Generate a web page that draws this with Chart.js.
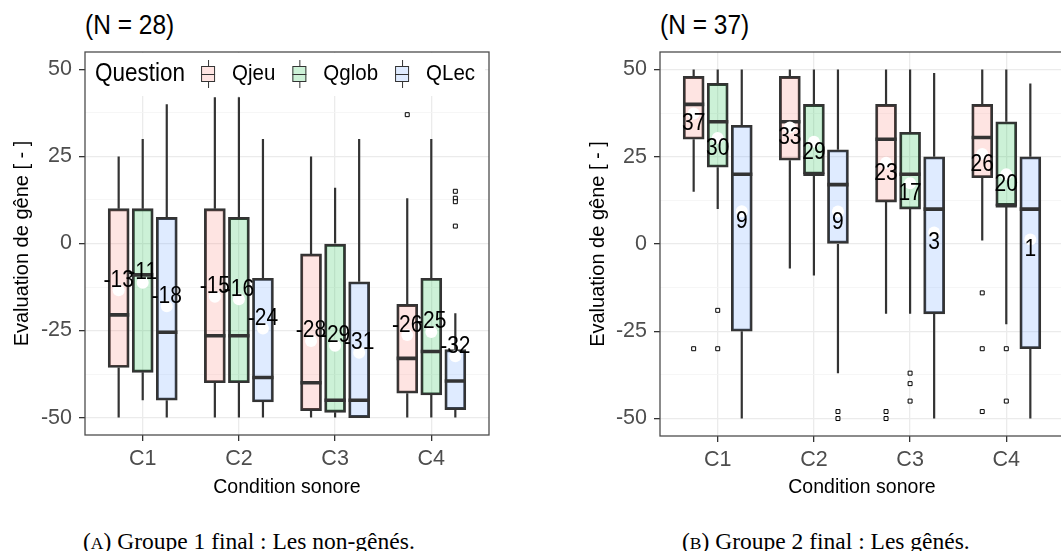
<!DOCTYPE html>
<html><head><meta charset="utf-8">
<script src="https://cdn.jsdelivr.net/npm/chart.js@4.4.0/dist/chart.umd.min.js"></script>
<style>
html,body{margin:0;padding:0;background:#fff;}
body{width:1061px;height:551px;overflow:hidden;position:relative;font-family:"Liberation Sans",Arial,sans-serif;}
.cv{position:absolute;top:0;}
.ttl{position:absolute;font-size:24.5px;line-height:24px;color:#000;top:13px;white-space:nowrap;transform:scaleY(1.1);transform-origin:left center;}
.cap{position:absolute;font-family:"Liberation Serif","Times New Roman",serif;font-size:23.5px;line-height:24px;top:529px;color:#000;white-space:nowrap;}
.sc{font-size:17.5px;}
</style></head><body>
<div class="ttl" style="left:85px">(N = 28)</div>
<div class="ttl" style="left:660px">(N = 37)</div>
<canvas id="cA" class="cv" style="left:0px" width="530" height="510"></canvas>
<canvas id="cB" class="cv" style="left:530px" width="540" height="510"></canvas>
<div class="cap" style="left:83px">(<span class="sc">A</span>) Groupe 1 final : Les non-gênés.</div>
<div class="cap" style="left:682px">(<span class="sc">B</span>) Groupe 2 final : Les gênés.</div>
<script>
// ---------- data ----------
const categories = ['C1', 'C2', 'C3', 'C4'];
const questions = ['Qjeu', 'Qglob', 'QLec'];
const yMajorTicks = [-50, -25, 0, 25, 50];
const yMinorTicks = [-37.5, -12.5, 12.5, 37.5];

// Panel A (N = 28) : rows = Qjeu, Qglob, QLec ; columns = C1..C4
const A_min  = [[-50, -50, -50, -50], [-45, -50, -50, -50], [-50, -50, -50, -50]];
const A_q1   = [[-35.6, -40, -48, -43], [-37, -40, -48.5, -43.5], [-45, -45.5, -50, -47.7]];
const A_med  = [[-20.5, -26.5, -40, -33], [-9, -26.5, -45, -31], [-25.5, -38.5, -45, -39.5]];
const A_q3   = [[10, 10, -3, -17.5], [10, 7.5, 0, -10], [7.5, -10, -11, -30.5]];
const A_max  = [[25, 42, 25, 13], [30, 42, 16, 30], [40, 30, 30, -20]];
const A_mean = [[-13.4, -15.3, -28, -26.3], [-11.3, -16, -29.4, -25.4], [-18, -24.4, -31.4, -32.4]];
const A_out  = [[[], [], [], [37]], [[], [], [], []], [[], [], [], [15, 13, 12, 5]]];

// Panel B (N = 37)
const B_min  = [[15, -7, -20, 1], [10, -9, -20, -23], [-50, -37, -50, -50]];
const B_q1   = [[30, 24, 12, 19], [22, 20, 10, 11], [-25, 0, -20, -30]];
const B_med  = [[40, 35, 30, 30.5], [35, 20, 20, 11], [20, 17, 10, 10]];
const B_q3   = [[48, 48, 40, 40], [46, 40, 32, 35], [34, 27, 25, 25]];
const B_max  = [[50, 50, 50, 50], [50, 50, 50, 50], [50, 50, 49, 46]];
const B_mean = [[37.4, 33.4, 23.3, 25.8], [30.4, 29.3, 17.4, 20], [9.4, 9.3, 3.3, 1.3]];
const B_out  = [[[-30], [], [-48, -50], [-14, -30, -48]], [[-19, -30], [], [-37, -40, -45], [-30, -45]], [[], [-48, -50], [], []]];

// ---------- style ----------
const FONT = '"Liberation Sans", Arial, sans-serif';
Chart.defaults.font.family = FONT;
const FILLS = ['rgba(248,118,109,0.2)', 'rgba(0,186,56,0.2)', 'rgba(97,156,255,0.2)'];
const DODGE = [-0.25, 0, 0.25];
const BOX_HALF = 0.11;
const LINE = '#333333';
const TEXT_STRETCH = 1.12;

function stretchedText(ctx, txt, x, y) {
  ctx.save();
  ctx.translate(x, y);
  ctx.scale(1, TEXT_STRETCH);
  ctx.fillText(txt, 0, 0);
  ctx.restore();
}

const framePlugin = {
  id: 'frame',
  afterDatasetsDraw(chart, args, opts) {
    const ctx = chart.ctx, ca = chart.chartArea;
    ctx.save();
    // mean labels
    const mi = chart.data.datasets.findIndex(d => d.isMean);
    const meta = chart.getDatasetMeta(mi);
    ctx.fillStyle = '#000';
    ctx.font = '21px ' + FONT;
    ctx.textAlign = 'center';
    ctx.textBaseline = 'middle';
    meta.data.forEach((el, j) => {
      const d = chart.data.datasets[mi].data[j];
      stretchedText(ctx, String(d.label), el.x, el.y + opts.labelOffset);
    });
    // legend
    if (opts.legend) {
      ctx.fillStyle = '#fff';
      ctx.fillRect(ca.left + 1, ca.top + 1, 399, 43);
      const cy = ca.top + 22;
      ctx.textAlign = 'left';
      ctx.fillStyle = '#000';
      ctx.font = '22.5px ' + FONT;
      let x = ca.left + 10;
      stretchedText(ctx, 'Question', x, cy);
      x += ctx.measureText('Question').width + 16;
      ctx.font = '20.5px ' + FONT;
      questions.forEach((q, qi) => {
        ctx.fillStyle = '#fff';
        ctx.fillRect(x, cy - 8, 14, 16);
        ctx.fillStyle = FILLS[qi];
        ctx.fillRect(x, cy - 8, 14, 16);
        ctx.strokeStyle = LINE;
        ctx.lineWidth = 1;
        ctx.strokeRect(x + 0.5, cy - 8 + 0.5, 13, 15);
        ctx.beginPath();
        ctx.moveTo(x, cy + 0.5); ctx.lineTo(x + 14, cy + 0.5);
        ctx.moveTo(x + 7.5, cy - 14); ctx.lineTo(x + 7.5, cy - 8);
        ctx.moveTo(x + 7.5, cy + 8); ctx.lineTo(x + 7.5, cy + 14);
        ctx.stroke();
        x += 14 + 17;
        ctx.fillStyle = '#000';
        stretchedText(ctx, q, x, cy);
        x += ctx.measureText(q).width + 17;
      });
    }
    // panel border
    ctx.strokeStyle = '#4d4d4d';
    ctx.lineWidth = 1.3;
    ctx.strokeRect(ca.left, ca.top, ca.right - ca.left, ca.bottom - ca.top);
    ctx.restore();
  }
};

function build(id, S, cfg) {
  const datasets = [];
  const wh = [], md = [], ol = [], mn = [];
  questions.forEach((q, qi) => categories.forEach((c, ci) => {
    const x = ci + 1 + DODGE[qi];
    wh.push({x, y: S.q3[qi][ci]}, {x, y: S.max[qi][ci]}, {x, y: null},
            {x, y: S.q1[qi][ci]}, {x, y: S.min[qi][ci]}, {x, y: null});
    md.push({x: x - BOX_HALF, y: S.med[qi][ci]}, {x: x + BOX_HALF, y: S.med[qi][ci]}, {x, y: null});
    S.out[qi][ci].forEach(v => ol.push({x, y: v}));
    mn.push({x, y: S.mean[qi][ci], label: Math.round(S.mean[qi][ci])});
  }));
  datasets.push({type: 'line', data: wh, borderColor: LINE, borderWidth: 2.2, pointRadius: 0, spanGaps: false, fill: false, order: 5});
  questions.forEach((q, qi) => {
    datasets.push({
      type: 'bar', label: q,
      data: categories.map((c, ci) => ({x: ci + 1 + DODGE[qi], y: [S.q1[qi][ci], S.q3[qi][ci]]})),
      backgroundColor: FILLS[qi], borderColor: LINE, borderWidth: 2.2, borderSkipped: false,
      barThickness: 21, grouped: false, order: 4
    });
  });
  datasets.push({type: 'line', data: md, borderColor: LINE, borderWidth: 3.6, pointRadius: 0, spanGaps: false, fill: false, order: 3});
  datasets.push({type: 'line', showLine: false, data: ol, pointStyle: 'rect', pointRadius: 2.8, backgroundColor: '#fff', borderColor: '#000', borderWidth: 1, order: 2});
  datasets.push({type: 'line', showLine: false, isMean: true, data: mn, pointRadius: 6, backgroundColor: '#fff', borderColor: '#fff', borderWidth: 0, order: 1});

  return new Chart(document.getElementById(id), {
    type: 'bar',
    data: {datasets},
    options: {
      responsive: false, animation: false, devicePixelRatio: 1, events: [],
      layout: {padding: {left: 0, top: 52, right: cfg.padRight, bottom: 0}},
      plugins: {legend: {display: false}, tooltip: {enabled: false},
                frame: {legend: cfg.legend, labelOffset: cfg.labelOffset}},
      scales: {
        x: {
          type: 'linear', min: 0.4, max: 4.6, offset: false,
          afterBuildTicks: s => { s.ticks = categories.map((c, i) => ({value: i + 1})); },
          afterFit: s => { s.height = cfg.xHeight; },
          ticks: {callback: v => categories[v - 1], color: '#4d4d4d', font: {size: 21.5}, padding: 5.5, autoSkip: false, maxRotation: 0},
          grid: {offset: false, color: '#ebebeb', lineWidth: 1.3, tickColor: LINE, tickLength: 6},
          border: {display: false},
          title: {display: true, text: 'Condition sonore', color: '#000', font: {size: 19.5}, padding: {top: 0, bottom: 10.3}}
        },
        y: {
          type: 'linear', min: -55, max: 55,
          afterBuildTicks: s => { s.ticks = yMajorTicks.concat(yMinorTicks).sort((a, b) => a - b).map(v => ({value: v})); },
          afterFit: s => { s.width = cfg.yWidth; },
          ticks: {callback: v => (yMajorTicks.includes(v) ? String(v) : ''), color: '#4d4d4d', font: {size: 21.5}, padding: 7, autoSkip: false},
          grid: {
            color: c => (c.tick && yMajorTicks.includes(c.tick.value) ? '#ebebeb' : '#f4f4f4'),
            lineWidth: c => (c.tick && yMajorTicks.includes(c.tick.value) ? 1.3 : 0.8),
            tickColor: c => (c.tick && yMajorTicks.includes(c.tick.value) ? LINE : 'rgba(0,0,0,0)'),
            tickLength: 6
          },
          border: {display: false},
          title: {display: true, text: 'Evaluation de gêne [ - ]', color: '#000', font: {size: 20}, padding: {top: cfg.yTitlePad, bottom: 0}}
        }
      }
    },
    plugins: [framePlugin]
  });
}

build('cA', {min: A_min, q1: A_q1, med: A_med, q3: A_q3, max: A_max, mean: A_mean, out: A_out},
      {padRight: 41, xHeight: 75, yWidth: 85, yTitlePad: 10, legend: true, labelOffset: -10});
build('cB', {min: B_min, q1: B_q1, med: B_med, q3: B_q3, max: B_max, mean: B_mean, out: B_out},
      {padRight: 6, xHeight: 74, yWidth: 130, yTitlePad: 56, legend: false, labelOffset: 10.5});
</script>
</body></html>
